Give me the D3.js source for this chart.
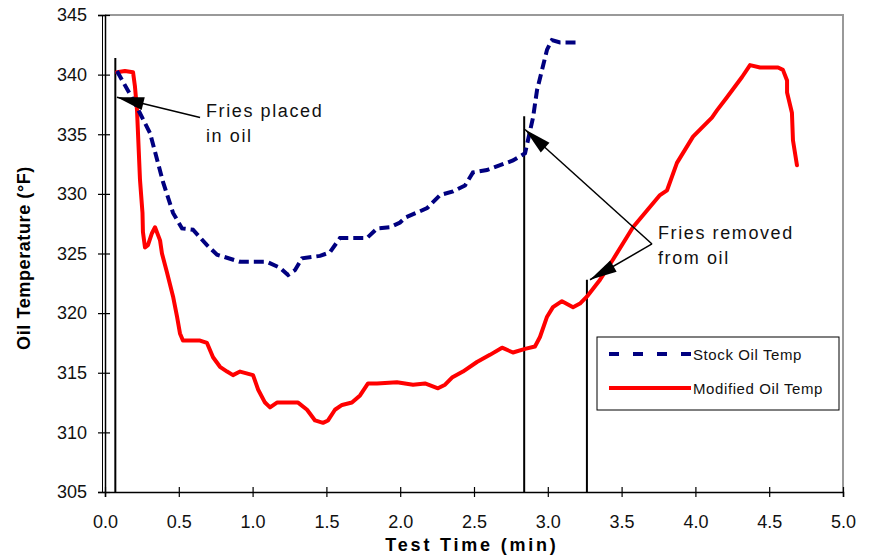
<!DOCTYPE html>
<html>
<head>
<meta charset="utf-8">
<script src="https://cdn.jsdelivr.net/npm/d3@7"></script>
<style>
  html, body { margin: 0; padding: 0; background: #fff; }
  svg { display: block; font-family: "Liberation Sans", Arial, sans-serif; }
</style>
</head>
<body>
<svg id="chart" width="870" height="558"></svg>
<script>
// Fryer oil temperature during a test cook: stock vs. modified fryer
const stockTime = [0.081, 0.19, 0.305, 0.393, 0.461, 0.522, 0.596, 0.691, 0.759, 0.915, 1.098, 1.186, 1.24, 1.287, 1.335, 1.457, 1.524, 1.592, 1.775, 1.843, 1.931, 1.999, 2.033, 2.182, 2.27, 2.358, 2.439, 2.493, 2.588, 2.764, 2.846, 2.9, 2.927, 2.961, 2.995, 3.028, 3.083, 3.218];
const stockTemp = [340.3, 337.9, 335.1, 331.0, 328.4, 327.1, 327.0, 325.7, 324.9, 324.3, 324.3, 323.8, 323.2, 323.6, 324.6, 324.8, 325.1, 326.3, 326.3, 327.1, 327.2, 327.6, 328.0, 328.8, 329.9, 330.2, 330.7, 331.8, 332.0, 332.8, 333.4, 336.4, 338.7, 340.4, 342.1, 342.9, 342.7, 342.7];

const modTime = [0.081, 0.135, 0.19, 0.203, 0.217, 0.237, 0.254, 0.257, 0.271, 0.291, 0.318, 0.339, 0.373, 0.386, 0.42, 0.461, 0.488, 0.508, 0.528, 0.644, 0.691, 0.732, 0.779, 0.827, 0.867, 0.915, 1.003, 1.037, 1.084, 1.118, 1.165, 1.308, 1.369, 1.423, 1.477, 1.511, 1.558, 1.606, 1.673, 1.728, 1.782, 1.843, 1.978, 2.087, 2.168, 2.256, 2.304, 2.351, 2.425, 2.52, 2.608, 2.69, 2.764, 2.846, 2.913, 2.947, 2.995, 3.035, 3.096, 3.171, 3.218, 3.266, 3.354, 3.442, 3.577, 3.672, 3.76, 3.808, 3.875, 3.984, 4.112, 4.146, 4.214, 4.316, 4.37, 4.438, 4.56, 4.593, 4.621, 4.621, 4.654, 4.661, 4.688];
const modTemp = [340.2, 340.3, 340.2, 339.0, 337.0, 331.2, 328.4, 326.8, 325.5, 325.7, 326.7, 327.2, 326.1, 325.0, 323.4, 321.4, 319.7, 318.3, 317.7, 317.7, 317.5, 316.3, 315.5, 315.1, 314.8, 315.1, 314.8, 313.6, 312.5, 312.1, 312.5, 312.5, 311.9, 311.0, 310.8, 311.0, 311.9, 312.3, 312.5, 313.1, 314.1, 314.1, 314.2, 314.0, 314.1, 313.7, 314.0, 314.6, 315.1, 315.9, 316.5, 317.1, 316.7, 317.0, 317.2, 318.0, 319.7, 320.5, 321.0, 320.5, 320.8, 321.4, 322.8, 324.5, 327.2, 328.6, 329.9, 330.3, 332.6, 334.8, 336.4, 337.0, 338.1, 339.8, 340.8, 340.6, 340.6, 340.4, 339.5, 338.5, 336.8, 334.5, 332.4];

const xTicks = [0, 0.5, 1, 1.5, 2, 2.5, 3, 3.5, 4, 4.5, 5];
const yTicks = [305, 310, 315, 320, 325, 330, 335, 340, 345];

const seriesNames = ["Stock Oil Temp", "Modified Oil Temp"];

// Event markers: [time, top temperature of the marker line]
const eventLines = [[0.07, 341.4], [2.84, 336.5], [3.265, 322.8]];

// Annotation arrows: [from time, from temp, to time, to temp]
const placedArrow = [[0.644, 336.4, 0.081, 338.1]];
const removedArrows = [[3.706, 325.8, 2.846, 335.4], [3.706, 325.8, 3.286, 322.8]];

const svg = d3.select("#chart");
const x = d3.scaleLinear().domain([0, 5]).range([105, 843]);
const y = d3.scaleLinear().domain([305, 345]).range([492, 15]);

// plot frame (top and right edges in grey)
svg.append("path")
  .attr("d", `M${x(0)},${y(345)}H${x(5)}V${y(305)}`)
  .attr("fill", "none").attr("stroke", "#999").attr("stroke-width", 2);

// axes
const yAxis = svg.append("g").attr("transform", `translate(${x(0)},0)`)
  .call(d3.axisLeft(y).tickValues(yTicks).tickFormat(d3.format("d")).tickSize(7).tickPadding(11));
const xAxis = svg.append("g").attr("transform", `translate(0,${y(305)})`)
  .call(d3.axisBottom(x).tickValues(xTicks).tickFormat(d3.format(".1f")).tickSize(5).tickPadding(18));

[yAxis, xAxis].forEach(g => {
  g.select(".domain").attr("stroke", "#000").attr("stroke-width", 1.5);
  g.selectAll(".tick line").attr("stroke", "#000").attr("stroke-width", 1.2);
  g.selectAll(".tick text").attr("fill", "#111").attr("font-size", 18)
    .attr("font-family", "Liberation Sans, Arial, sans-serif");
});
// ticks cross the axis line
yAxis.selectAll(".tick line").attr("x2", -7).attr("x1", 5);
xAxis.selectAll(".tick line").attr("y1", -5).attr("y2", 5);
svg.append("line").attr("x1", x(0) - 2.5).attr("x2", x(0) - 2.5)
  .attr("y1", y(345)).attr("y2", y(305)).attr("stroke", "#000").attr("stroke-width", 1);

// axis titles
svg.append("text").attr("x", 472).attr("y", 551).attr("text-anchor", "middle")
  .attr("font-size", 18).attr("font-weight", "bold").attr("letter-spacing", 2.8)
  .text("Test Time (min)");
svg.append("text").attr("transform", "translate(30,258) rotate(-90)").attr("text-anchor", "middle")
  .attr("font-size", 18).attr("font-weight", "bold").attr("letter-spacing", 0.6)
  .text("Oil Temperature (°F)");

// event marker lines
svg.selectAll(".event").data(eventLines).enter().append("line")
  .attr("x1", d => x(d[0])).attr("x2", d => x(d[0]))
  .attr("y1", d => y(d[1])).attr("y2", y(305))
  .attr("stroke", "#000").attr("stroke-width", 2);

// series
const stockData = stockTime.map((t, i) => [t, stockTemp[i]]);
const modData = modTime.map((t, i) => [t, modTemp[i]]);
const line = d3.line().x(d => x(d[0])).y(d => y(d[1]));

svg.append("path").datum(modData).attr("d", line)
  .attr("fill", "none").attr("stroke", "#ff0000").attr("stroke-width", 4)
  .attr("stroke-linejoin", "round").attr("stroke-linecap", "round");
svg.append("path").datum(stockData).attr("d", line)
  .attr("fill", "none").attr("stroke", "#000080").attr("stroke-width", 4)
  .attr("stroke-dasharray", "10,5");

// arrows
const defs = svg.append("defs");
defs.append("marker").attr("id", "head")
  .attr("markerUnits", "userSpaceOnUse").attr("viewBox", "-28 -7 29 14")
  .attr("refX", 0).attr("refY", 0).attr("markerWidth", 29).attr("markerHeight", 14)
  .attr("orient", "auto")
  .append("path").attr("d", "M0,0L-27,-6.5L-27,6.5Z").attr("fill", "#000");

svg.selectAll(".arrow").data(placedArrow.concat(removedArrows)).enter().append("line")
  .attr("x1", d => x(d[0])).attr("y1", d => y(d[1]))
  .attr("x2", d => x(d[2])).attr("y2", d => y(d[3]))
  .attr("stroke", "#000").attr("stroke-width", 1.5).attr("marker-end", "url(#head)");

// annotation labels
const note = (lines, px, py) => {
  const t = svg.append("text").attr("font-size", 18).attr("letter-spacing", 1.6).attr("fill", "#111");
  lines.forEach((s, i) => t.append("tspan").attr("x", px).attr("y", py + i * 25).text(s));
};
note(["Fries placed", "in oil"], 206, 117);
note(["Fries removed", "from oil"], 658, 239);

// legend
const lg = svg.append("g");
lg.append("rect").attr("x", 597).attr("y", 337).attr("width", 242).attr("height", 73)
  .attr("fill", "#fff").attr("stroke", "#000").attr("stroke-width", 1);
const legendRows = [
  { name: seriesNames[0], color: "#000080", dash: "10,14", y: 354 },
  { name: seriesNames[1], color: "#ff0000", dash: null, y: 388 }
];
legendRows.forEach(r => {
  lg.append("line").attr("x1", 609).attr("x2", 691).attr("y1", r.y).attr("y2", r.y)
    .attr("stroke", r.color).attr("stroke-width", 4)
    .attr("stroke-dasharray", r.dash);
  lg.append("text").attr("x", 693).attr("y", r.y + 5.5).attr("font-size", 15)
    .attr("letter-spacing", 0.6).attr("fill", "#111").text(r.name);
});
</script>
</body>
</html>
